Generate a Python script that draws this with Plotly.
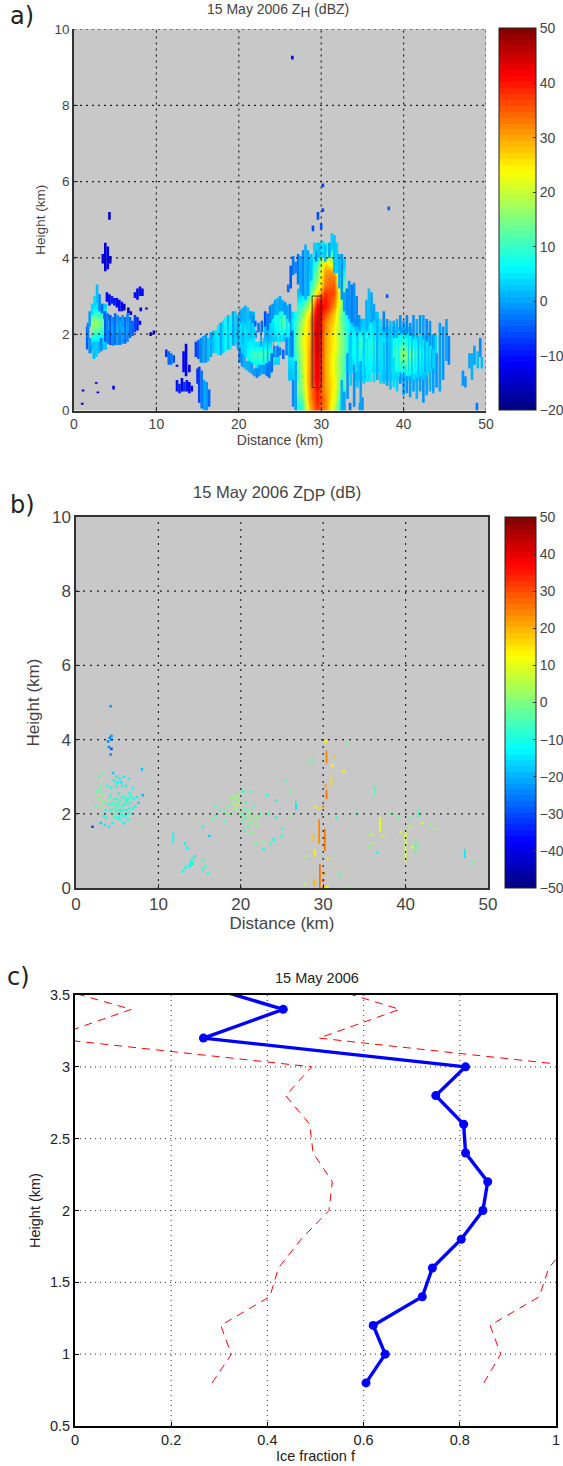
import plotly.graph_objects as go

N = None
W, H = 563, 1466

# ---------- panel a : stronger echoes as a raster (1 km x 0.2 km), top row first
a_x = [i + 0.5 for i in range(50)]
a_y = [4.3, 4.1, 3.9, 3.7, 3.5, 3.3, 3.1, 2.9, 2.7, 2.5, 2.3, 2.1, 1.9, 1.7, 1.5, 1.3, 1.1, 0.9, 0.7, 0.5, 0.3, 0.1]
a_z = [
 [N,N,N,N,N,N,N,N,N,N, N,N,N,N,N,N,N,N,N,N, N,N,N,N,N,N,N,N,N,3, 8,5,N,N,N,N,N,N,N,N, N,N,N,N,N,N,N,N,N,N],
 [N,N,N,N,N,N,N,N,N,N, N,N,N,N,N,N,N,N,N,N, N,N,N,N,N,N,N,N,N,5, 14,10,N,N,N,N,N,N,N,N, N,N,N,N,N,N,N,N,N,N],
 [N,N,N,N,N,N,N,N,N,N, N,N,N,N,N,N,N,N,N,N, N,N,N,N,N,N,N,N,2,10, 25,18,3,N,N,N,N,N,N,N, N,N,N,N,N,N,N,N,N,N],
 [N,N,N,N,N,N,N,N,N,N, N,N,N,N,N,N,N,N,N,N, N,N,N,N,N,N,N,N,3,13, 30,28,5,N,N,N,N,N,N,N, N,N,N,N,N,N,N,N,N,N],
 [N,N,N,N,N,N,N,N,N,N, N,N,N,N,N,N,N,N,N,N, N,N,N,N,N,N,N,N,5,15, 32,33,8,N,N,N,N,N,N,N, N,N,N,N,N,N,N,N,N,N],
 [N,N,N,N,N,N,N,N,N,N, N,N,N,N,N,N,N,N,N,N, N,N,N,N,N,N,N,N,6,18, 33,35,12,N,N,N,N,N,N,N, N,N,N,N,N,N,N,N,N,N],
 [N,N,N,N,N,N,N,N,N,N, N,N,N,N,N,N,N,N,N,N, N,N,N,N,N,N,N,2,8,25, 38,36,15,N,N,N,N,N,N,N, N,N,N,N,N,N,N,N,N,N],
 [N,N,N,N,N,N,N,N,N,N, N,N,N,N,N,N,N,N,N,N, N,N,N,N,N,N,N,5,14,38, 40,34,15,2,N,N,N,N,N,N, N,N,N,N,N,N,N,N,N,N],
 [N,N,5,4,N,N,N,N,N,N, N,N,N,N,N,N,N,N,N,N, N,N,N,N,4,6,N,10,20,43, 40,31,14,1,N,N,N,N,N,N, N,N,N,N,N,N,N,N,N,N],
 [N,N,11,9,N,N,N,N,N,N, N,N,N,N,N,N,N,N,N,N, N,1,N,N,7,10,3,14,26,45, 36,27,12,2,N,N,2,N,N,N, N,N,N,N,N,N,N,N,N,N],
 [N,N,17,14,N,N,N,N,N,N, N,N,N,N,N,N,N,N,N,N, 4,3,N,2,8,14,5,17,28,46, 32,26,13,4,1,2,3,N,N,N, N,N,N,N,N,N,N,N,N,N],
 [N,N,13,9,N,N,N,N,N,N, N,N,N,N,N,N,N,N,4,3, 5,3,N,2,6,9,4,19,28,46, 32,24,14,5,4,4,5,1,3,1, 2,N,N,N,N,N,N,N,N,N],
 [N,N,7,5,N,N,N,N,N,N, N,N,N,N,N,N,N,6,6,5, 3,4,N,1,3,2,6,20,28,46, 30,24,14,6,8,11,8,4,6,8, 6,4,4,3,N,N,N,N,N,N],
 [N,N,2,2,N,N,N,N,N,N, N,N,N,N,N,N,N,3,5,N, 3,6,4,5,N,N,6,20,29,46, 30,24,15,6,9,13,14,8,7,11, 10,6,5,4,N,N,N,N,N,N],
 [N,N,N,N,N,N,N,N,N,N, N,N,N,N,N,N,N,N,N,N, 3,10,12,10,6,N,5,18,30,45, 30,23,14,6,8,11,10,7,8,14, 17,10,6,4,N,N,N,N,N,N],
 [N,N,N,N,N,N,N,N,N,N, N,N,N,N,N,N,N,N,N,N, N,7,9,8,3,N,4,18,30,44, 30,22,13,4,6,8,10,7,8,12, 14,7,5,3,N,N,N,N,N,N],
 [N,N,N,N,N,N,N,N,N,N, N,N,N,N,N,N,N,N,N,N, N,N,3,2,N,N,3,17,30,44, 30,22,13,3,6,5,4,6,6,10, 9,6,4,3,N,N,N,N,N,N],
 [N,N,N,N,N,N,N,N,N,N, N,N,N,N,N,N,N,N,N,N, N,N,N,N,N,N,2,16,31,44, 30,23,12,N,2,2,N,2,3,3, 4,3,2,N,N,N,N,N,N,N],
 [N,N,N,N,N,N,N,N,N,N, N,N,N,N,N,N,N,N,N,N, N,N,N,N,N,N,N,15,31,42, 30,24,12,N,N,N,N,N,N,N, N,N,N,N,N,N,N,N,N,N],
 [N,N,N,N,N,N,N,N,N,N, N,N,N,N,N,N,N,N,N,N, N,N,N,N,N,N,N,14,30,40, 31,23,10,N,N,N,N,N,N,N, N,N,N,N,N,N,N,N,N,N],
 [N,N,N,N,N,N,N,N,N,N, N,N,N,N,N,N,N,N,N,N, N,N,N,N,N,N,N,11,30,40, 32,22,8,N,N,N,N,N,N,N, N,N,N,N,N,N,N,N,N,N],
 [N,N,N,N,N,N,N,N,N,N, N,N,N,N,N,N,N,N,N,N, N,N,N,N,N,N,N,8,28,38, 32,20,5,N,N,N,N,N,N,N, N,N,N,N,N,N,N,N,N,N],
]

# weaker echoes appear as narrow vertical runs: (distance km, height from, height to, dBZ)
a_left_edge = [(2.4,1.35,1.8,2),(2.7,1.4,1.8,3),(3.0,1.5,1.8,1),(3.3,1.55,1.9,-2),(1.6,1.6,2.2,-5),(1.9,1.5,1.9,-1),(1.9,2.2,2.6,0),(2.2,2.5,2.8,4),
 (2.5,2.7,3.0,4),(2.8,2.8,3.3,2),(3.1,2.6,3.05,-2),(3.4,2.55,2.8,-4),(3.7,2.4,2.6,-5),(1.7,1.9,2.3,-2),(2.0,1.5,1.7,-2)]
a_left_wing = [(3.8,1.8,2.6,-5),(4.1,1.75,2.55,-3),(4.4,1.72,2.5,-6),(4.7,1.7,2.45,-2),(5.0,1.72,2.55,-4),(5.3,1.72,2.5,-1),(5.6,1.72,2.45,-3),(5.9,1.75,2.5,-1),
 (6.2,1.75,2.45,-4),(6.5,1.8,2.55,-2),(6.8,1.9,2.45,-4),(7.1,1.95,2.35,-5),(7.4,2.05,2.5,-7),(7.7,2.1,2.45,-9),(8.0,2.25,2.35,-12),
 (4.0,2.85,3.1,-12),(4.3,2.75,3.05,-11),(4.6,2.8,3.0,-9),(4.9,2.75,2.95,-10),(5.2,2.7,2.95,-12),(5.5,2.6,2.9,-11),(5.8,2.6,2.85,-13),(6.1,2.62,2.8,-14),
 (6.6,2.55,2.7,-15),(6.9,2.5,2.6,-15),(7.4,2.95,3.1,-12),(7.7,2.9,3.2,-11),(8.0,3.0,3.25,-10),(8.3,3.0,3.2,-13),(8.1,2.6,2.7,-14),(8.8,2.65,2.7,-14)]
a_left_top = [(3.5,3.85,4.1,-13),(3.8,3.65,4.4,-14),(4.1,3.7,4.3,-12),(4.4,3.85,4.05,-15),(4.3,5.0,5.2,-15)]
a_specks = [(2.7,0.7,0.75,-15),(4.8,0.55,0.65,-15),(1.1,0.5,0.55,-15),(2.9,0.45,0.5,-15),(1.0,0.15,0.2,-15),(9.7,2.0,2.1,-14),(9.3,1.95,2.05,-15),
 (26.5,9.2,9.3,-12),(29.6,5.0,5.2,-6),(30.2,5.2,5.3,-6),(30.2,5.85,5.95,-7),(38.2,5.25,5.35,-5),(29.0,4.7,4.85,-6),(30.0,4.75,4.9,-5),(38.0,2.95,3.05,-5)]
a_mid_blobs = [(11.2,1.4,1.6,-8),(11.5,1.2,1.55,-4),(11.8,1.2,1.5,-3),(12.1,1.25,1.45,-6),(12.5,1.15,1.2,-11),(13.3,1.0,1.55,-11),(13.6,0.9,1.75,-13),(14.0,1.0,1.2,-12),
 (12.5,0.5,0.8,-10),(12.8,0.45,0.7,-9),(13.1,0.5,0.85,-12),(13.4,0.5,0.75,-8),(13.7,0.5,0.8,-10),(14.0,0.45,0.75,-11),(14.3,0.5,0.65,-12),
 (15.0,0.7,1.1,-9),(15.2,0.2,1.15,-7),(15.5,0.05,1.05,-3),(15.8,0.0,0.8,0),(16.1,0.0,0.75,-1),(16.4,0.1,0.55,-4)]
a_band = [(14.8,1.4,1.8,-7),(15.1,1.35,1.85,-5),(15.4,1.25,1.9,-2),(15.7,1.25,1.95,0),(16.0,1.25,2.0,-1),(16.3,1.3,1.9,2),(16.6,1.4,2.05,0),(16.9,1.5,2.1,2),
 (17.2,1.5,2.1,4),(17.5,1.45,2.25,5),(17.8,1.45,2.3,0),(18.1,1.5,2.35,4),(18.4,1.55,2.45,6),(18.7,1.6,2.5,2),(19.0,1.6,2.5,6),(19.3,1.7,2.6,0),(19.6,1.7,2.6,3),(19.9,1.6,2.5,0)]
a_lobe_top = [(20.2,2.3,2.65,0),(20.5,2.35,2.7,1),(20.8,2.3,2.75,1),(21.1,2.4,2.7,2),(21.4,2.4,2.6,0),(21.7,2.3,2.5,-2),(22.0,2.2,2.35,-4),(22.4,2.05,2.3,-3),(22.8,2.05,2.35,-4),
 (23.2,2.2,2.6,-6),(23.5,2.1,2.55,-3),(23.8,2.3,2.75,-2),(24.1,2.4,2.8,-1),(24.4,2.5,2.9,0),(24.7,2.5,2.95,1),(25.0,2.6,3.0,0),(25.3,2.6,2.9,0),(25.6,2.5,2.85,-1),(25.9,2.4,2.75,0),(26.2,2.3,2.8,-2)]
a_lobe_low = [(20.1,1.25,1.65,-3),(20.4,1.15,1.5,-1),(20.7,1.1,1.4,1),(21.0,1.05,1.3,1),(21.3,1.0,1.3,0),(21.6,0.95,1.25,0),(21.9,0.9,1.1,-1),(22.2,0.85,1.1,-2),(22.5,0.9,1.2,-1),
 (22.8,0.95,1.2,0),(23.1,0.95,1.2,-1),(23.4,0.9,1.25,-3),(23.7,0.85,1.3,-3),(24.0,1.0,1.5,-4),(24.3,1.4,1.7,-2),(24.7,1.4,1.7,-3),(25.0,1.45,1.65,-3),(25.4,1.35,1.6,-4),(25.8,1.45,1.9,-2),(26.2,1.4,1.9,-1),(26.5,1.4,2.1,-3)]
a_tower_edge = [(26.6,0.1,0.8,-2),(26.9,0.0,1.3,0),(26.0,3.1,3.3,-4),(26.3,3.2,3.8,-5),(26.6,3.55,4.05,-3),(26.9,3.6,3.9,-2),(27.2,3.3,4.1,-3),(27.5,3.1,4.05,0),(27.8,3.0,4.2,-2),
 (28.1,2.9,4.35,1),(28.4,3.0,4.2,0),(28.8,3.4,4.1,2),(29.4,3.9,4.2,-1),(29.8,4.0,4.4,2),(30.2,4.0,4.45,4),(30.5,3.9,4.35,2),(31.0,4.0,4.4,0),(31.3,4.2,4.65,3),
 (31.6,3.6,4.6,2),(31.9,3.6,4.4,3),(32.2,3.2,4.1,1),(32.5,2.9,4.1,-1),(32.8,2.6,3.1,0),(33.1,2.5,3.2,-2),(33.4,2.4,3.4,-1),(33.7,2.3,3.3,-3),(34.0,2.2,3.35,-1),(34.3,2.1,3.0,-2),(34.6,2.1,2.5,-1),
 (32.5,0.0,0.8,1),(32.8,0.0,0.5,0),(33.5,0.0,0.2,-3),(34.7,0.0,0.2,0),(35.0,0.0,0.35,-1),(35.5,2.1,2.9,1),(35.8,2.2,3.2,2),(36.1,2.3,3.1,0),(36.4,2.2,2.8,0),(37.6,2.1,2.6,-2),(38.0,2.0,2.4,-1)]
a_right = [(33.2,0.3,1.5,-1),(33.6,0.65,2.1,3),(34.0,0.1,1.2,-1),(34.4,0.6,2.2,2),(34.8,0.1,1.3,0),(35.2,0.7,2.4,3),(35.6,0.75,1.9,5),(36.0,0.75,2.3,6),(36.4,0.75,2.35,4),(36.8,0.8,2.4,1),
 (37.2,0.7,2.4,4),(37.6,0.7,1.8,2),(38.0,0.65,2.1,0),(38.4,0.55,2.35,2),(38.8,0.6,1.4,4),(39.2,0.5,1.0,3),(39.6,0.7,1.0,-1),(40.0,0.4,0.95,0),(40.4,0.45,0.9,-1),(40.8,0.35,0.9,0),
 (41.2,0.5,0.8,0),(41.6,0.3,0.85,1),(42.0,0.5,0.9,0),(42.4,0.2,0.8,-1),(42.8,0.4,0.9,0),(43.2,0.5,1.0,1),(43.6,0.45,1.1,0),(44.0,0.6,1.5,-1),(44.4,0.5,2.3,0),(44.8,0.8,2.2,-1),(45.2,1.3,2.4,0),(45.5,1.2,1.95,-2),
 (38.8,1.9,2.35,0),(39.2,1.9,2.4,1),(39.6,2.0,2.5,-1),(40.0,2.0,2.35,0),(40.4,2.0,2.5,-2),(40.8,1.95,2.3,-1),(41.2,1.9,2.5,-1),(41.6,1.9,2.4,1),(42.0,2.0,2.5,-1),(42.4,1.85,2.5,0),(42.8,1.8,2.4,-2),(43.2,1.7,2.35,-1),(43.6,1.6,2.0,0)]
a_far = [(47.2,0.65,1.05,-1),(47.5,0.6,0.9,-1),(48.0,1.1,1.5,0),(48.3,0.8,1.5,1),(48.6,1.2,1.7,0),(49.0,1.1,1.55,2),(49.3,1.4,1.9,-2),(49.5,1.1,1.4,2),(48.9,0.0,0.2,-3)]
# thinner streaks inside the broad cyan areas
a_texture = [(38.2,0.9,1.8,2),(38.6,1.0,2.0,4),(39.0,1.1,1.9,7),(39.4,0.9,2.1,6),(39.8,0.95,1.3,6),(40.2,1.0,1.2,5),(40.6,1.0,2.0,4),(41.0,0.9,1.9,2),(41.4,1.1,1.95,5),(41.8,0.95,1.9,1),
 (42.2,0.9,2.0,3),(42.6,1.0,1.8,0),(43.0,1.0,1.7,2),(43.4,1.1,1.6,0),(33.4,1.0,2.0,3),(34.2,1.0,1.9,6),(34.6,1.3,2.0,7),(35.0,0.9,1.6,5),(35.4,1.2,1.8,8),(35.8,1.9,2.2,4),
 (20.9,1.4,1.9,4),(21.3,1.3,1.8,6),(22.3,1.2,1.5,7),(23.0,1.25,1.9,3),(23.5,1.3,2.0,0),(24.2,1.7,2.3,3),(24.8,1.7,2.4,7),(25.2,1.75,2.5,6),(25.8,2.0,2.4,4),(26.3,1.9,2.3,-1),
 (20.5,1.7,2.3,1),(21.0,1.9,2.35,3),(21.5,1.9,2.3,1),(22.1,1.9,2.1,-3),(22.7,1.7,2.05,-2),
 (4.6,2.0,2.3,1),(5.2,1.95,2.25,2),(5.6,2.05,2.35,1),(6.0,1.9,2.2,2),(6.4,2.0,2.3,0),(4.2,2.1,2.35,0)]

a_box_x = [28.9, 30.0, 30.0, 28.9, 28.9]
a_box_y = [0.6, 0.6, 3.0, 3.0, 0.6]

# ---------- panel b : differential reflectivity echoes, one list per cluster (x km, h km, dB)
b_left = [(2.4,2.2,-5),(2.6,2.6,-4),(2.8,3.0,-6),(3.0,2.75,-3),(3.2,2.5,-1),(3.1,2.2,-1),(3.3,2.35,2),(3.4,1.95,-10),(3.0,1.75,-17),(2.0,1.65,-30),
 (3.5,1.7,-14),(3.7,1.9,-10),(3.9,2.25,-8),(4.1,2.4,-6),(4.2,2.1,-9),(4.3,2.7,-10),(4.5,3.1,-16),(4.6,2.9,-11),(4.7,2.4,-9),(4.8,2.15,-8),
 (4.8,1.9,-10),(4.9,2.75,-12),(5.0,2.25,-7),(5.1,2.85,-9),(5.2,2.55,-9),(5.3,2.1,-12),(5.4,2.35,-6),(5.5,2.85,-14),(5.6,2.2,-8),(5.7,1.95,-9),
 (5.8,3.0,-14),(5.9,2.45,-9),(6.0,2.3,-7),(6.1,2.75,-12),(6.2,2.1,-9),(6.3,1.85,-8),(6.4,2.95,-12),(6.5,2.55,-10),(6.6,2.3,-8),(6.8,2.0,-8),
 (6.9,2.7,-11),(7.0,2.4,-10),(7.2,2.2,-12),(7.4,2.45,-11),(7.6,2.3,-16),(8.1,2.5,-20),(8.0,3.2,-18),(4.0,1.65,-14),(3.3,3.1,-3),(4.4,1.75,-12),
 (5.8,1.75,-12),(4.6,1.95,-5),(5.2,1.9,-9),(6.0,1.95,-12),(3.8,2.75,-8),(4.3,2.25,-7),(4.5,2.1,-6),(4.7,2.25,-8),(5.0,2.4,-7),(5.2,2.2,-6),
 (5.5,2.1,-10),(5.6,2.45,-8),(5.8,2.25,-8),(6.1,2.4,-9),(6.3,2.25,-8),(6.4,2.0,-7),(6.5,2.15,-10),(5.3,1.85,-10),(5.0,2.85,-12),(5.6,2.75,-12),
 (4.2,2.5,-9),(4.4,2.3,-8),(4.9,2.05,-7),(5.1,2.3,-8),(5.4,2.0,-9),(5.9,2.1,-8),(6.2,2.35,-8),(6.4,2.4,-9),(6.7,2.45,-8),(6.9,2.15,-9),(2.8,2.4,0),(2.9,2.65,-3),(3.5,2.3,-4),(3.6,2.1,-8),(4.9,3.0,-14),(5.3,2.95,-12)]
b_left_top = [(4.0,3.8,-25),(3.9,3.95,-25),(4.3,4.0,-25),(4.1,4.05,-25),(4.2,3.6,-25),(4.3,3.75,-30),(4.3,4.1,-22),(4.2,4.9,-22)]
b_mid = [(13.2,1.2,-14),(13.5,1.08,-14),(13.8,0.6,-14),(14.0,0.7,-12),(14.1,0.65,-8),(14.1,0.8,-9),(14.4,0.85,-14),(13.3,0.55,-12),(15.4,0.75,-8),(15.4,0.5,-10),(15.7,0.6,-6),(16.0,0.4,-8),(13.0,0.45,-10),(14.0,0.75,-6),(14.2,0.7,-8),(13.9,0.65,-10)]
b_band = [(15.4,1.65,-12),(16.2,1.4,-16),(16.9,2.2,-6),(16.5,1.85,-2),(17.0,1.95,-7),(17.5,2.1,-5),(18.0,1.8,-6),(18.4,2.2,-2),(18.6,2.0,-1),(18.8,2.4,1),
 (19.0,2.3,3),(19.3,2.15,3),(19.4,2.4,3),(19.6,2.25,4),(19.8,2.5,2),(20.1,2.0,-3),(20.2,1.8,-4),(20.3,2.6,-8),(20.6,2.3,-5),(20.8,1.65,-4),
 (21.0,2.05,0),(21.2,2.6,-6),(21.4,1.8,0),(21.6,2.2,-6),(22.0,1.7,0),(22.0,1.9,0),(22.4,2.0,-3),(21.8,1.2,-2),(22.6,1.25,0),(22.8,1.05,-12),
 (23.2,2.5,-10),(23.6,1.2,-7),(23.4,2.0,-6),(24.0,1.3,-12),(24.3,1.9,-10),(24.3,2.35,-10),(25.0,1.6,-8),(25.0,1.4,-8),(26.0,1.9,0),(25.5,2.9,-5),(26.0,2.6,-3),(26.8,2.3,-3),
 (19.1,2.45,2),(19.2,2.25,4),(19.5,2.1,1),(19.7,2.35,3),(20.0,2.3,-2),(20.4,2.15,-4),(20.6,1.9,-2),(20.8,2.1,-2),(21.1,1.75,-1),(21.3,1.95,0),(20.4,1.55,-6),(20.9,1.5,-3),(21.5,1.5,0),(18.0,2.05,-3)]
b_core = [(30.0,2.2,22),(29.5,2.15,16),(29.0,2.2,15),(31.1,3.3,14),(31.4,3.55,18),(30.3,3.95,14),(30.0,0.2,28),(30.1,0.4,24),(30.1,0.05,18),(27.8,0.1,5),(30.5,0.02,10),(32.0,0.35,-4),(27.9,0.85,4),
 (28.2,3.4,-2),(28.8,3.45,-4),(32.5,3.15,14),(32.9,3.9,-2),(31.6,1.9,-8),(33.0,0.02,0),(30.6,0.8,15)]
b_right = [(35.5,1.1,0),(35.5,1.45,3),(36.0,1.45,5),(36.0,1.2,2),(37.3,1.4,5),(34.0,2.0,-5),(38.3,2.0,-2),(39.2,1.9,-2),(39.4,1.5,9),(39.9,1.4,9),(40.5,1.65,6),(40.8,1.1,8),(41.6,1.1,-3),(40.6,1.9,-4),(42.0,1.75,8),(43.0,1.7,0),(43.7,1.6,2),(36.6,0.95,-12)]
b_runs = [(29.5,1.2,1.85,24),(30.2,1.0,1.6,26),(29.0,0.85,1.05,14),(28.8,1.25,1.45,18),(30.4,2.4,2.65,26),(30.3,2.7,2.8,22),(30.4,3.35,3.7,24),(31.0,2.75,3.0,16),(29.6,0.0,0.65,26),(28.9,0.05,0.25,20),
 (40.0,0.7,1.55,8),(36.9,1.5,1.9,10),(11.8,1.2,1.5,-12),(47.2,0.8,1.05,-14),(48.2,0.6,0.75,-3),(41.2,0.95,1.3,-3),(41.5,1.9,2.1,-5),(26.7,2.1,2.35,-15),(36.3,2.5,2.75,-5)]

# ---------- panel c : ice fraction profile
c_h = [0.8, 1.0, 1.2, 1.4, 1.6, 1.8, 2.0, 2.2, 2.4, 2.6, 2.8, 3.0, 3.2, 3.4, 3.6]
c_f = [0.605, 0.645, 0.62, 0.722, 0.743, 0.803, 0.848, 0.858, 0.812, 0.808, 0.75, 0.812, 0.267, 0.433, 0.233]
c_low = [0.285, 0.325, 0.303, 0.405, 0.423, 0.47, 0.528, 0.535, 0.495, 0.488, 0.438, 0.492, -0.055, 0.117, -0.093]
c_up = [0.85, 0.885, 0.863, 0.965, 0.985, 1.035, 1.10, 1.10, 1.06, 1.05, 0.998, 1.055, 0.507, 0.675, 0.48]

a_xticks = [0, 10, 20, 30, 40, 50]
a_yticks = [0, 2, 4, 6, 8, 10]
c_xticks = [0, 0.2, 0.4, 0.6, 0.8, 1]
c_yticks = [0.5, 1, 1.5, 2, 2.5, 3, 3.5]
za_ticks = [-20, -10, 0, 10, 20, 30, 40, 50]
zb_ticks = [-50, -40, -30, -20, -10, 0, 10, 20, 30, 40, 50]

GREY = "#c8c8c8"
SANS = "Liberation Sans"
LETTER = "DejaVu Sans"


def jet_rgb(t):
    def f(v):
        return max(0.0, min(1.0, v))
    r = f(min(4 * t - 1.5, -4 * t + 4.5))
    g = f(min(4 * t - 0.5, -4 * t + 3.5))
    b = f(min(4 * t + 0.5, -4 * t + 2.5))
    return f"rgb({int(r*255)},{int(g*255)},{int(b*255)})"


def jet_scale(n=64):
    out = []
    for i in range(n):
        c = jet_rgb((i + 0.5) / n)
        out.append([i / n, c])
        out.append([(i + 1) / n, c])
    return out


JET = jet_scale()


def ydom(top, bottom):
    return [1 - bottom / H, 1 - top / H]


def xdom(left, right):
    return [left / W, right / W]


def cbar(x0, x1, top, bottom, ticks, size):
    return dict(x=x0 / W, xanchor="left", xref="paper", y=1 - bottom / H, yanchor="bottom", yref="paper",
                len=(bottom - top) / H, lenmode="fraction", thickness=x1 - x0, thicknessmode="pixels",
                xpad=0, ypad=0, outlinecolor="#222222", outlinewidth=1, tickvals=ticks, ticks="inside",
                ticklen=3, tickcolor="#333333", tickfont=dict(family=SANS, size=size, color="#444444"))


def run_traces(runs, vmin, vmax, width, xa, ya):
    """Vertical runs, one trace per value; colour comes from the same jet scale as the raster."""
    groups = {}
    for x, y0, y1, v in runs:
        groups.setdefault(v, []).append((x, y0, y1))
    out = []
    for v, items in sorted(groups.items()):
        xs, ys = [], []
        for x, y0, y1 in items:
            xs += [x, x, None]
            ys += [y0, y1, None]
        out.append(go.Scatter(x=xs, y=ys, mode="lines", xaxis=xa, yaxis=ya, showlegend=False, hoverinfo="skip",
                              line=dict(color=jet_rgb((v - vmin) / (vmax - vmin)), width=width)))
    return out


fig = go.Figure()

fig.add_trace(go.Heatmap(x=a_x, y=a_y, z=a_z, zmin=-20, zmax=50, colorscale=JET, zsmooth="best",
                         hoverongaps=False, colorbar=cbar(499, 536, 29, 410.5, za_ticks, 14),
                         xaxis="x", yaxis="y"))
a_runs = a_left_edge + a_left_wing + a_left_top + a_specks + a_mid_blobs + a_band + a_lobe_top + a_lobe_low + a_tower_edge + a_right + a_far
for tr in run_traces(a_runs, -20, 50, 2.6, "x", "y"):
    fig.add_trace(tr)
for tr in run_traces(a_texture, -20, 50, 1.4, "x", "y"):
    fig.add_trace(tr)
fig.add_trace(go.Scatter(x=a_box_x, y=a_box_y, mode="lines", xaxis="x", yaxis="y", showlegend=False,
                         line=dict(color="#333333", width=1)))

for tr in run_traces(b_runs, -50, 50, 1.8, "x2", "y2"):
    fig.add_trace(tr)
b_all = b_left + b_left_top + b_mid + b_band + b_core + b_right
fig.add_trace(go.Scatter(x=[p[0] for p in b_all], y=[p[1] for p in b_all], mode="markers",
                         xaxis="x2", yaxis="y2", showlegend=False,
                         marker=dict(symbol="square", size=2.5, color=[p[2] for p in b_all], cmin=-50, cmax=50,
                                     colorscale=JET, showscale=True,
                                     colorbar=cbar(505, 536, 517, 888, zb_ticks, 14))))

dash = "8px,6px"
fig.add_trace(go.Scatter(x=c_low, y=c_h, mode="lines", xaxis="x3", yaxis="y3", showlegend=False,
                         line=dict(color="#ff0000", width=1, dash=dash)))
fig.add_trace(go.Scatter(x=c_up, y=c_h, mode="lines", xaxis="x3", yaxis="y3", showlegend=False,
                         line=dict(color="#ff0000", width=1, dash=dash)))
fig.add_trace(go.Scatter(x=c_f, y=c_h, mode="lines+markers", xaxis="x3", yaxis="y3", showlegend=False,
                         line=dict(color="#0000ff", width=3.4), marker=dict(color="#0000ff", size=9)))


def axis(dom, rng, ticks, anchor, title, size, standoff, color="#333333", lw=1.5, mirror=True, tcolor="#444444"):
    return dict(domain=dom, range=rng, tickvals=ticks, anchor=anchor, showgrid=False, zeroline=False,
                showline=True, mirror=mirror, linecolor=color, linewidth=lw, ticks="inside", ticklen=4,
                tickcolor=color, tickfont=dict(family=SANS, size=size, color=tcolor),
                title=dict(text=title, font=dict(family=SANS, size=size, color=tcolor), standoff=standoff))


fig.update_layout(
    width=W, height=H, margin=dict(l=0, r=0, t=0, b=0, autoexpand=False), paper_bgcolor="white", plot_bgcolor=GREY, showlegend=False,
    xaxis=axis(xdom(74, 486), [0, 50], a_xticks, "y", "Distance (km)", 14, 1, mirror=False),
    yaxis=axis(ydom(29, 410.5), [0, 10], a_yticks, "x", "Height (km)", 13.5, 6, mirror=False),
    xaxis2=axis(xdom(76, 488), [0, 50], a_xticks, "y2", "Distance (km)", 17, 4),
    yaxis2=axis(ydom(517, 888), [0, 10], a_yticks, "x2", "Height (km)", 17, 8),
    xaxis3=axis(xdom(75, 556), [0, 1], c_xticks, "y3", "Ice fraction f", 14.5, 1, "black", 2, tcolor="#222222"),
    yaxis3=axis(ydom(995, 1426), [0.5, 3.5], c_yticks, "x3", "Height (km)", 14.5, 6, "black", 2, tcolor="#222222"),
)

# white background for panel c, dotted grids above the data
shapes = [dict(type="rect", xref="x3 domain", yref="y3 domain", x0=0, x1=1, y0=0, y1=1, fillcolor="white",
               line=dict(width=0), layer="below")]
for xa, ya, xt, yt, rx, ry, col, dd, last in [
    ("x", "y", a_xticks, a_yticks, (0, 50), (0, 10), "#222222", "2px,4px", True),
    ("x2", "y2", a_xticks, a_yticks, (0, 50), (0, 10), "#222222", "2px,5px", False),
    ("x3", "y3", c_xticks, c_yticks, (0, 1), (0.5, 3.5), "#555555", "1px,4px", False),
]:
    lay = "above" if xa != "x3" else "below"
    xs = xt[1:] if last else xt[1:-1]
    ys = yt[1:] if last else yt[1:-1]
    for t in xs:
        shapes.append(dict(type="line", xref=xa, yref=ya, x0=t, x1=t, y0=ry[0], y1=ry[1],
                           line=dict(color=col, width=1.2, dash=dd), layer=lay))
    for t in ys:
        shapes.append(dict(type="line", xref=xa, yref=ya, x0=rx[0], x1=rx[1], y0=t, y1=t,
                           line=dict(color=col, width=1.2, dash=dd), layer=lay))
fig.update_layout(shapes=shapes)


def note(text, px, py, size, font=SANS, color="#444444"):
    return dict(text=text, x=px / W, y=1 - py / H, xref="paper", yref="paper", showarrow=False,
                xanchor="center", yanchor="middle", font=dict(family=font, size=size, color=color))


fig.update_layout(annotations=[
    note("a)", 22, 16, 24, LETTER, "#222222"),
    note("b)", 22, 505, 24, LETTER, "#222222"),
    note("c)", 18, 977, 24, LETTER, "#222222"),
    note("15 May 2006 Z<sub><span style='font-size:140%'>H</span></sub> (dBZ)", 278, 11, 14),
    note("15 May 2006 Z<sub><span style='font-size:140%'>DP</span></sub> (dB)", 277, 493, 16.5),
    note("15 May 2006", 317, 978, 14.5, SANS, "#222222"),
])

fig.write_html("out.html", config={"displayModeBar": False},
               post_script="document.body.style.margin='0';document.documentElement.style.overflow='hidden';")
